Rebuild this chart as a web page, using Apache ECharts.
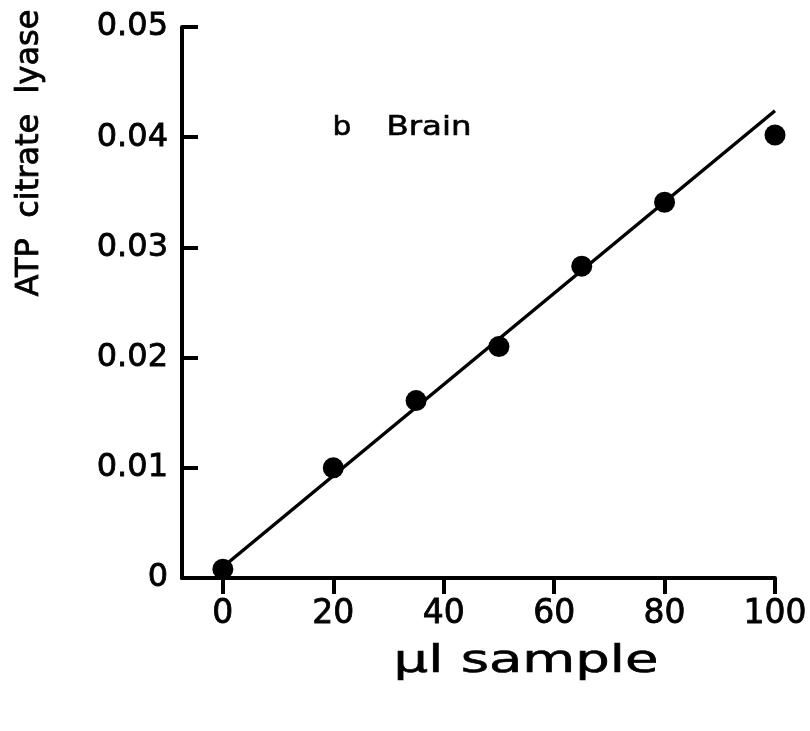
<!DOCTYPE html>
<html>
<head>
<meta charset="utf-8">
<script src="https://cdn.jsdelivr.net/npm/echarts@6/dist/echarts.min.js"></script>
<style>html,body{margin:0;padding:0;background:#fff;}#c{width:810px;height:731px;}</style>
</head>
<body>
<div id="c"></div>
<script>
// Data
var sampleUl = [0, 20, 35, 50, 65, 80, 100];
var activity = [0.0008, 0.0100, 0.0161, 0.0210, 0.0283, 0.0341, 0.0402];
var fitX = [0, 100];
var fitY = [0.0010, 0.0424];
var xTickValues = [0, 20, 40, 60, 80, 100];
var yTickValues = [0, 0.01, 0.02, 0.03, 0.04, 0.05];
var yTitle = 'ATP  citrate  lyase';
var xTitle = 'µl sample';
var panelLetter = 'b';
var panelName = 'Brain';

var chart = echarts.init(document.getElementById('c'), null, {renderer: 'canvas'});
var option = {
  backgroundColor: '#ffffff',
  animation: false,
  grid: {left: 182, right: 35, top: 27, bottom: 153, containLabel: false},
  xAxis: {
    type: 'value',
    min: -7.4,
    max: 100,
    axisLine: {show: true, lineStyle: {color: '#000', width: 4}},
    axisTick: {show: true, inside: false, length: 16, lineStyle: {color: '#000', width: 4}, customValues: xTickValues},
    axisLabel: {show: true, margin: 20, color: '#000', fontFamily: 'DejaVu Sans', fontSize: 33,
      textBorderColor: '#000', textBorderWidth: 0.8, customValues: xTickValues,
      formatter: function (v) { return String(v); }},
    splitLine: {show: false}
  },
  yAxis: {
    type: 'value',
    min: 0,
    max: 0.05,
    interval: 0.01,
    axisLine: {show: true, onZero: false, lineStyle: {color: '#000', width: 4}},
    axisTick: {show: true, inside: true, length: 16, lineStyle: {color: '#000', width: 4}, customValues: yTickValues},
    axisLabel: {show: true, margin: 14, color: '#000', fontFamily: 'DejaVu Sans', fontSize: 32,
      textBorderColor: '#000', textBorderWidth: 0.8, customValues: yTickValues,
      formatter: function (v) { return v === 0 ? '0' : v.toFixed(2); }},
    splitLine: {show: false}
  },
  graphic: [
    {type: 'text', x: 30, y: 153, rotation: Math.PI / 2,
      style: {text: yTitle, font: '32px "DejaVu Sans"', fill: '#000', stroke: '#000', lineWidth: 0.8,
        align: 'center', verticalAlign: 'middle'}},
    {type: 'text', x: 526, y: 662, scaleX: 1.47,
      style: {text: xTitle, font: '37px "DejaVu Sans"', fill: '#000', stroke: '#000', lineWidth: 0.6,
        align: 'center', verticalAlign: 'middle'}},
    {type: 'text', x: 342, y: 128, scaleX: 1.1,
      style: {text: panelLetter, font: '27px "DejaVu Sans"', fill: '#000', stroke: '#000', lineWidth: 0.6,
        align: 'center', verticalAlign: 'middle'}},
    {type: 'text', x: 429, y: 128, scaleX: 1.2,
      style: {text: panelName, font: '27px "DejaVu Sans"', fill: '#000', stroke: '#000', lineWidth: 0.6,
        align: 'center', verticalAlign: 'middle'}}
  ],
  series: [
    {
      type: 'line',
      data: fitX.map(function (x, i) { return [x, fitY[i]]; }),
      symbol: 'none',
      lineStyle: {color: '#000', width: 3.5},
      z: 2
    },
    {
      type: 'scatter',
      data: sampleUl.map(function (x, i) { return [x, activity[i]]; }),
      symbol: 'circle',
      symbolSize: 21,
      itemStyle: {color: '#000', opacity: 1},
      z: 3
    }
  ]
};
chart.setOption(option);
</script>
</body>
</html>
